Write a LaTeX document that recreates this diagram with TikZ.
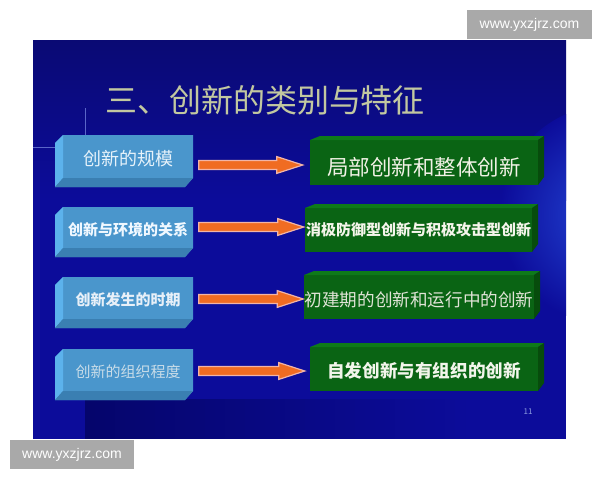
\documentclass[tikz,border=0pt]{standalone}
\usepackage{fontspec}
\newfontfamily\cjk{Noto Sans CJK SC}
\newfontfamily\wmfont{Liberation Sans}
\usetikzlibrary{calc}
\definecolor{slidebase}{HTML}{0C0C9A}
\definecolor{slidetop}{HTML}{0A0A74}
\definecolor{glow}{HTML}{2448D8}
\definecolor{darkb}{HTML}{05056C}
\definecolor{tmpl}{HTML}{5A66C8}
\definecolor{bfront}{HTML}{4A96CC}
\definecolor{bleft}{HTML}{5CB2EC}
\definecolor{bbottom}{HTML}{3A7FB2}
\definecolor{gfront}{HTML}{0A6414}
\definecolor{gtop}{HTML}{0E7A1A}
\definecolor{gside}{HTML}{074C0C}
\definecolor{arrfill}{HTML}{F06C22}
\definecolor{arredge}{HTML}{F2B4A6}
\definecolor{titlecol}{HTML}{C2C8A0}
\definecolor{wmgray}{HTML}{A9A9A9}
\definecolor{pagenum}{HTML}{8C9CE0}
\newcommand\BlueBox[4]{%
  \fill[bfront] (#1+8,#2) -- (#3,#2) -- (#3,#4-9) -- (#3-8,#4) -- (#1,#4) -- (#1,#2+8) -- cycle;
  \fill[bleft] (#1,#2+8) -- (#1+8,#2) -- (#1+8,#4-9) -- (#1,#4) -- cycle;
  \fill[bbottom] (#1,#4) -- (#1+8,#4-9) -- (#3,#4-9) -- (#3-8,#4) -- cycle;
}
\newcommand\GreenBox[4]{%
  \fill[gfront] (#1,#2+4) -- (#3-6,#2+4) -- (#3-6,#4) -- (#1,#4) -- cycle;
  \fill[gtop] (#1,#2+4) -- (#1+10,#2) -- (#3,#2) -- (#3-6,#2+4) -- cycle;
  \fill[gside] (#3-6,#2+4) -- (#3,#2) -- (#3,#4-8) -- (#3-6,#4) -- cycle;
}
\newcommand\FatArrow[4]{%
  \draw[fatarrow] let \p1=([yshift=#3]#1.east), \p2=(#1.east -| #2.west) in
    ({\x1+5.5pt},{\y1+4.5pt}) -- ({\x2-#4-26pt},{\y1+4.5pt}) -- ({\x2-#4-26pt},{\y1+8.4pt})
    -- ({\x2-#4},{\y1}) -- ({\x2-#4-26pt},{\y1-8.4pt}) -- ({\x2-#4-26pt},{\y1-4.5pt})
    -- ({\x1+5.5pt},{\y1-4.5pt}) -- cycle;%
}
\begin{document}
\begin{tikzpicture}[x=1pt,y=-1pt,
  bnode/.style={minimum width=130pt, minimum height=42pt, inner sep=0pt},
  gnode/.style={minimum height=44pt, inner sep=0pt},
  fatarrow/.style={fill=arrfill, draw=arredge, line width=1.2pt, line join=miter},
  wmbox/.style={fill=wmgray, text=white, inner sep=0pt, font=\wmfont\fontsize{14}{16}\selectfont},
  tmplline/.style={draw=tmpl, line width=0.8pt}]
\useasboundingbox (0,0) rectangle (600,480);
\fill[white] (0,0) rectangle (600,480);
% slide background
\begin{scope}
  \clip (33,40) rectangle (566,439);
  \fill[slidebase] (33,40) rectangle (566,439);
  \shade[top color=slidetop, bottom color=slidebase] (33,40) rectangle (566,200);
  \shade[inner color=glow, outer color=slidebase] (610,215) circle (110);
  \foreach \i in {0,...,37} {
    \pgfmathsetmacro\pc{100-\i*100/38}
    \fill[darkb!\pc!slidebase] (85+10*\i,399) rectangle (95.5+10*\i,439);
  }
  \draw[tmplline] (85,108) -- (85,135);
  \draw[tmplline] (33,147) -- (55,147);
\end{scope}
% title
\node[font=\cjk\fontsize{32}{34}\selectfont, text=titlecol, inner sep=0pt] (title) at (265,100) {三、创新的类别与特征};
% blue boxes
\BlueBox{55}{135}{193}{187}
\BlueBox{55}{207}{193}{257}
\BlueBox{55}{277}{193}{328}
\BlueBox{55}{349}{193}{400}
\node[bnode, font=\cjk\fontsize{18}{20}\selectfont, text={rgb,255:red,230;green,242;blue,250}] (b1) at (128,158.5) {创新的规模};
\node[bnode, font=\cjk\bfseries\fontsize{15}{17}\selectfont, text={rgb,255:red,240;green,248;blue,255}] (b2) at (128,230) {创新与环境的关系};
\node[bnode, font=\cjk\bfseries\fontsize{15}{17}\selectfont, text={rgb,255:red,232;green,240;blue,248}] (b3) at (128,299.5) {创新发生的时期};
\node[bnode, font=\cjk\fontsize{15}{17}\selectfont, text={rgb,255:red,200;green,220;blue,232}] (b4) at (128,371.5) {创新的组织程度};
% green boxes
\GreenBox{310}{136}{544}{185}
\GreenBox{305}{204}{538}{252}
\GreenBox{304}{271}{540}{319}
\GreenBox{310}{343}{544}{391}
\node[gnode, minimum width=228pt, font=\cjk\fontsize{21.5}{23}\selectfont, text={rgb,255:red,242;green,242;blue,230}] (g1) at (424,167) {局部创新和整体创新};
\node[gnode, minimum width=227pt, font=\cjk\bfseries\fontsize{15}{17}\selectfont, text={rgb,255:red,245;green,245;blue,235}] (g2) at (418.5,230) {消极防御型创新与积极攻击型创新};
\node[gnode, minimum width=230pt, font=\cjk\fontsize{17.6}{19}\selectfont, text={rgb,255:red,225;green,228;blue,215}] (g3) at (419,300) {初建期的创新和运行中的创新};
\node[gnode, minimum width=228pt, font=\cjk\bfseries\fontsize{17.6}{19}\selectfont, text={rgb,255:red,242;green,245;blue,235}] (g4) at (424,371) {自发创新与有组织的创新};
% arrows
\FatArrow{b1}{g1}{-6.5pt}{7pt}
\FatArrow{b2}{g2}{3pt}{1pt}
\FatArrow{b3}{g3}{0.5pt}{0.5pt}
\FatArrow{b4}{g4}{0.5pt}{5pt}
% page number
\node[font=\cjk\fontsize{8}{9}\selectfont, text=pagenum, inner sep=0pt] (pn) at (528,412) {11};
% watermarks
\node[wmbox, minimum width=125pt, minimum height=29pt] (wm1) at (529.5,24.5) {www.yxzjrz.com};
\node[wmbox, minimum width=124pt, minimum height=29pt] (wm2) at (72,454.5) {www.yxzjrz.com};
\end{tikzpicture}
\end{document}
